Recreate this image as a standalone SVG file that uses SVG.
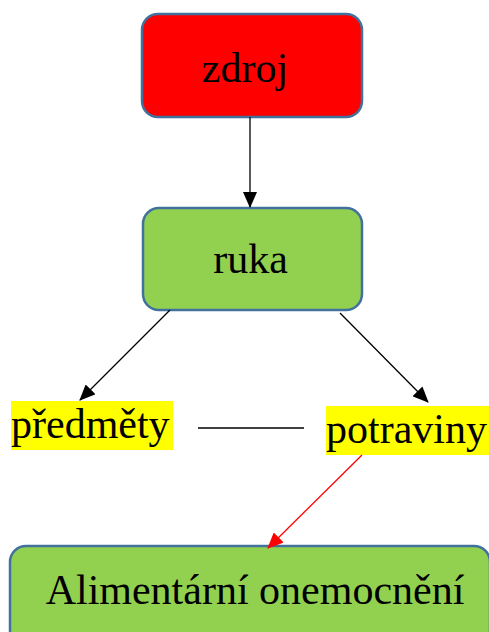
<svg xmlns="http://www.w3.org/2000/svg" width="489" height="632" viewBox="0 0 489 632">
<style>
.box{stroke:#41719c;stroke-width:2.5}
.t{font-family:'Liberation Serif','Times New Roman',serif;font-size:42px;fill:#000}
.c{stroke:#000;stroke-width:1.3;fill:none}
.hl{fill:#ffff00}
</style>
<defs>
<marker id="ab" markerWidth="16" markerHeight="14" refX="15" refY="7" orient="auto" markerUnits="userSpaceOnUse" viewBox="0 0 16 14"><path d="M0,0 L16,7 L0,14 z" fill="#000"/></marker>
<marker id="ar" markerWidth="16" markerHeight="14" refX="15" refY="7" orient="auto" markerUnits="userSpaceOnUse" viewBox="0 0 16 14"><path d="M0,0 L16,7 L0,14 z" fill="#ff0000"/></marker>
</defs>
<rect width="489" height="632" fill="#fff"/>
<g id="zdroj">
<rect class="box" x="142" y="14" width="220" height="103" rx="16" fill="#ff0000"/>
<text class="t" x="245" y="82" text-anchor="middle">zdroj</text>
</g>
<g id="ruka">
<rect class="box" x="143" y="208" width="219" height="102" rx="16" fill="#92d050"/>
<text class="t" x="250.5" y="273" text-anchor="middle">ruka</text>
</g>
<g id="predmety">
<rect class="hl" x="11" y="401" width="162" height="49"/>
<text class="t" x="11" y="438">předměty</text>
</g>
<g id="potraviny">
<rect class="hl" x="326" y="406" width="163" height="49"/>
<text class="t" x="326" y="443">potraviny</text>
</g>
<g id="alimentarni">
<rect class="box" x="10" y="546" width="480" height="100" rx="16" fill="#92d050"/>
<text class="t" x="255" y="604" text-anchor="middle">Alimentární onemocnění</text>
</g>
<g id="connectors">
<line class="c" x1="250" y1="117" x2="250" y2="207" marker-end="url(#ab)"/>
<line class="c" x1="170" y1="310" x2="80" y2="400" marker-end="url(#ab)"/>
<line class="c" x1="340" y1="313" x2="428" y2="402" marker-end="url(#ab)"/>
<line class="c" x1="198" y1="428" x2="304" y2="428"/>
<line x1="362" y1="455" x2="268" y2="548" stroke="#ff0000" stroke-width="1.3" marker-end="url(#ar)"/>
</g>
</svg>
